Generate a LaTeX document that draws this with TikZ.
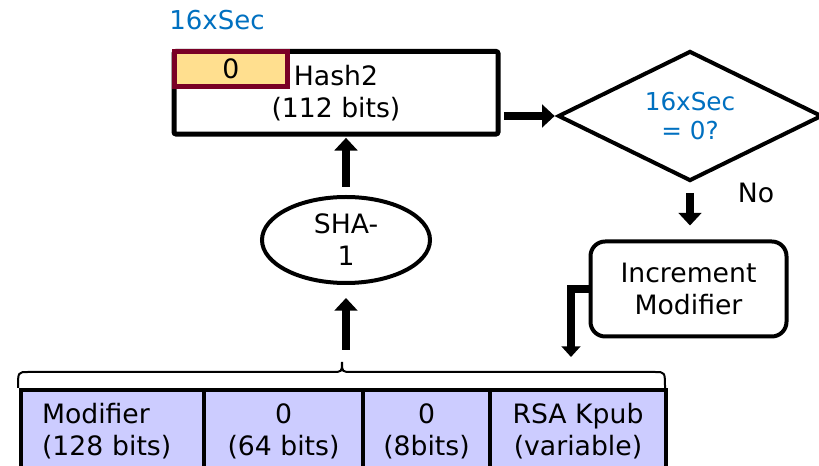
\documentclass[tikz,border=0pt]{standalone}
\usepackage{fontspec}
\setmainfont{DejaVu Sans}
\usetikzlibrary{shapes.geometric,arrows.meta}
\definecolor{bluetxt}{HTML}{0070C0}
\definecolor{lav}{HTML}{CCCCFF}
\definecolor{orfill}{HTML}{FFDF8F}
\definecolor{redb}{HTML}{7A0026}
\begin{document}
\begin{tikzpicture}[x=0.75pt,y=-0.75pt,
  txt/.style={font=\fontsize{20}{24}\selectfont, text=black, align=center},
  fatarrow/.style={line width=6.5pt, -{Triangle[width=17pt,length=9.5pt]}},
  field/.style={draw, line width=3pt, fill=lav, minimum height=61.5pt, inner sep=0pt, txt},
]
\useasboundingbox (0,0) rectangle (819,466);
\clip (0,0) rectangle (819,466);

\node[txt, font=\fontsize{19.5}{24}\selectfont, text=bluetxt] (lbl) at (217,20) {16xSec};
\node[draw, line width=3.75pt, rounded corners=1.5pt, minimum width=243pt, minimum height=61.9pt, inner sep=0pt, txt] (hash) at (336,92.75) {Hash2\\(112 bits)};
\node[draw=redb, fill=orfill, line width=3.75pt, minimum width=85.1pt, minimum height=26.6pt, inner sep=0pt, txt] (zero) at (230.75,69.25) {0};

\node[diamond, aspect=2, draw, line width=3pt, minimum width=198pt, minimum height=97.5pt, inner sep=0pt, txt, font=\fontsize{18.5}{21.5}\selectfont, text=bluetxt] (dia) at (690,116) {16xSec\\= 0?};
\node[txt] (no) at (756,193) {No};

\node[draw, line width=3pt, rounded corners=11pt, minimum width=147pt, minimum height=71.25pt, inner sep=0pt, txt] (inc) at (688.5,289) {Increment\\Modifier};

\node[ellipse, draw, line width=3pt, minimum width=126pt, minimum height=64.5pt, inner sep=0pt, txt] (sha) at (346,240) {SHA-\\1};

\node[field, minimum width=137.25pt, text width=105.75pt, align=left] (f1) at (112.5,431) {Modifier\\(128 bits)};
\node[field, minimum width=119.25pt] (f2) at (283.5,431) {0\\(64 bits)};
\node[field, minimum width=95.25pt] (f3) at (426.5,431) {0\\(8bits)};
\node[field, minimum width=132pt] (f4) at (578,431) {RSA Kpub\\(variable)};

\coordinate (bL) at (18,388);
\coordinate (bR) at (665,388);
\coordinate (bT) at (342,362);
\draw[line width=1.5pt] (bL) .. controls (18,372) .. (28,372) -- (332,372) .. controls (342,372) .. (bT) .. controls (342,372) .. (352,372) -- (655,372) .. controls (665,372) .. (bR);

\coordinate (s2) at (346,350);
\draw[fatarrow, shorten >=9.75pt] (s2) -- (sha.south);
\draw[fatarrow, shorten <=6pt, shorten >=1pt] (sha.north) -- (sha.north |- hash.south);
\draw[fatarrow, shorten <=2.6pt, shorten >=1pt] (hash.east |- dia.west) -- (dia.west);
\draw[fatarrow, shorten <=7.5pt, shorten >=10.5pt] (dia.south) -- (dia.south |- inc.north);
\coordinate (e5) at (571,357);
\draw[line width=5.5pt, -{Triangle[width=14pt,length=8pt]}] (inc.west) -| (e5);
\end{tikzpicture}
\end{document}
